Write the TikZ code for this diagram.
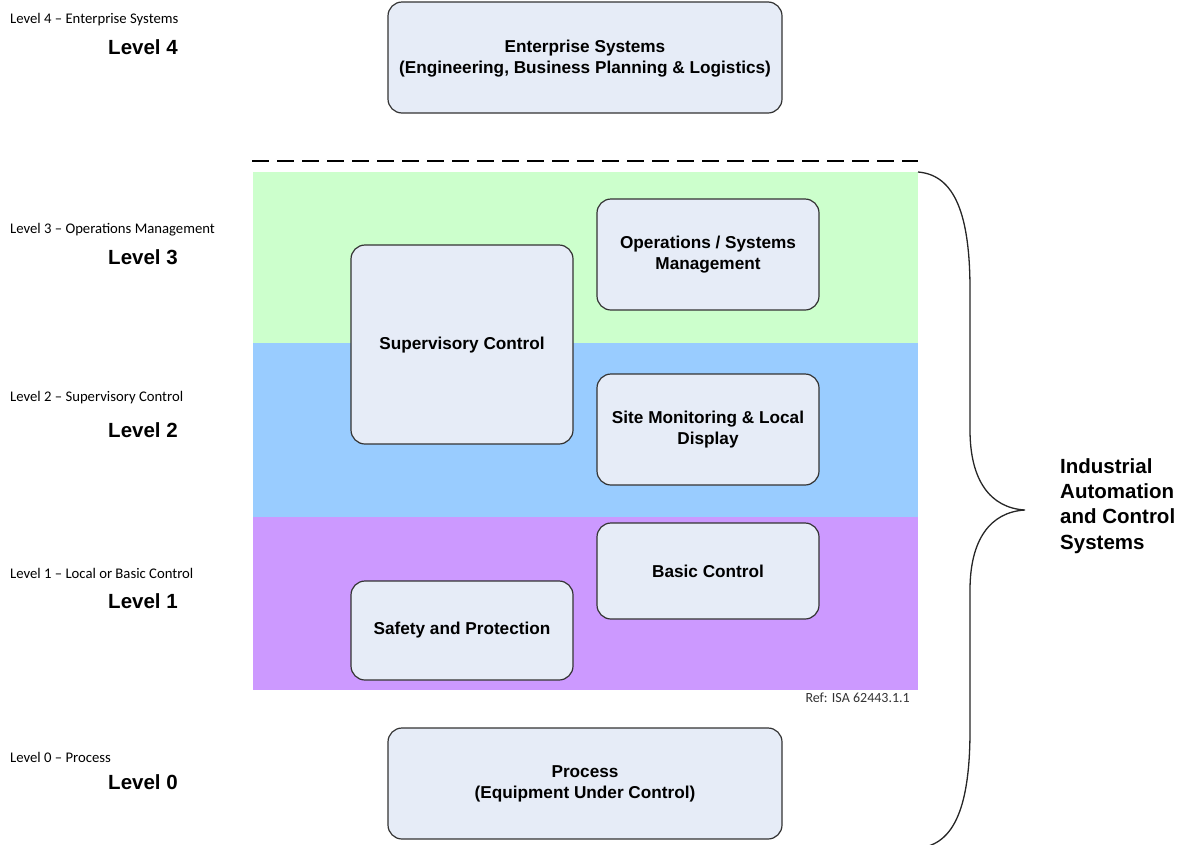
\documentclass[tikz,border=0pt]{standalone}
\usepackage{fontspec}
\setmainfont{Liberation Sans}
\newfontfamily\calfont{Carlito}
\definecolor{boxfill}{HTML}{E6ECF7}
\definecolor{boxline}{HTML}{333333}
\definecolor{bandgreen}{HTML}{CCFFCC}
\definecolor{bandblue}{HTML}{99CCFF}
\definecolor{bandpurple}{HTML}{CC99FF}
\begin{document}
\begin{tikzpicture}[x=1pt,y=-1pt,
  lvlbox/.style={draw=boxline, line width=1.2pt, fill=boxfill, rounded corners=14pt, inner sep=0pt},
  boxtext/.style={font=\fontsize{17.2}{21}\selectfont\bfseries, align=center},
  smalllab/.style={font=\calfont\fontsize{14.7}{16}\selectfont, anchor=west, inner sep=0pt},
  biglab/.style={font=\fontsize{20.5}{22}\selectfont\bfseries, inner sep=0pt}]
\useasboundingbox (0,0) rectangle (1185,844);
% bands
\fill[bandgreen] (253,172) rectangle (918,343);
\fill[bandblue] (253,343) rectangle (918,517);
\fill[bandpurple] (253,517) rectangle (918,690);
% dashed line
\coordinate (dl) at (252,161);
\coordinate (dr) at (918,161);
\draw[line width=2.6pt, dash pattern=on 17pt off 8pt] (dl) -- (dr);
% boxes
\draw[lvlbox] (388,2) rectangle (782,113);
\node[boxtext] (ent) at (585,58.5) {Enterprise Systems\\(Engineering, Business Planning \& Logistics)};
\draw[lvlbox] (351,245) rectangle (573,444);
\node[boxtext] (sup) at (462,345) {Supervisory Control};
\draw[lvlbox] (597,199) rectangle (819,310);
\node[boxtext] (ops) at (708,255) {Operations / Systems\\Management};
\draw[lvlbox] (597,374) rectangle (819,485);
\node[boxtext] (site) at (708,430) {Site Monitoring \& Local\\Display};
\draw[lvlbox] (597,523) rectangle (819,619);
\node[boxtext] (basic) at (708,571) {Basic Control};
\draw[lvlbox] (351,581) rectangle (573,680);
\node[boxtext] (safe) at (462,630) {Safety and Protection};
\draw[lvlbox] (388,728) rectangle (782,839);
\node[boxtext] (proc) at (585,784) {Process\\(Equipment Under Control)};
% ref
\node[font=\calfont\fontsize{14}{16}\selectfont, anchor=east, inner sep=0pt, text=black!80] (ref) at (910,698) {Ref: ISA 62443.1.1};
% left labels
\node[smalllab] (l4s) at (10,20) {Level 4 – Enterprise Systems};
\node[biglab] (l4) at (143,47) {Level 4};
\node[smalllab] (l3s) at (10,230) {Level 3 – Operations Management};
\node[biglab] (l3) at (143,257) {Level 3};
\node[smalllab] (l2s) at (10,398) {Level 2 – Supervisory Control};
\node[biglab] (l2) at (143,430) {Level 2};
\node[smalllab] (l1s) at (10,573) {Level 1 – Local or Basic Control};
\node[biglab] (l1) at (143,601) {Level 1};
\node[smalllab] (l0s) at (10,757) {Level 0 – Process};
\node[biglab] (l0) at (143,782) {Level 0};
% brace
\coordinate (bt) at (918,172);
\coordinate (tip) at (1025,510);
\coordinate (bb) at (918,848);
\draw[line width=1.3pt, black!85] (bt) .. controls (955,175) and (970,215) .. (970,290)
  -- (970,430) .. controls (970,480) and (990,508) .. (tip)
  .. controls (990,512) and (970,540) .. (970,590)
  -- (970,730) .. controls (970,805) and (955,845) .. (bb);
\node[font=\fontsize{20.5}{25.3}\selectfont\bfseries, align=left, anchor=west, inner sep=0pt] (iacs) at (1060,506) {Industrial\\Automation\\and Control\\Systems};
\end{tikzpicture}
\end{document}
